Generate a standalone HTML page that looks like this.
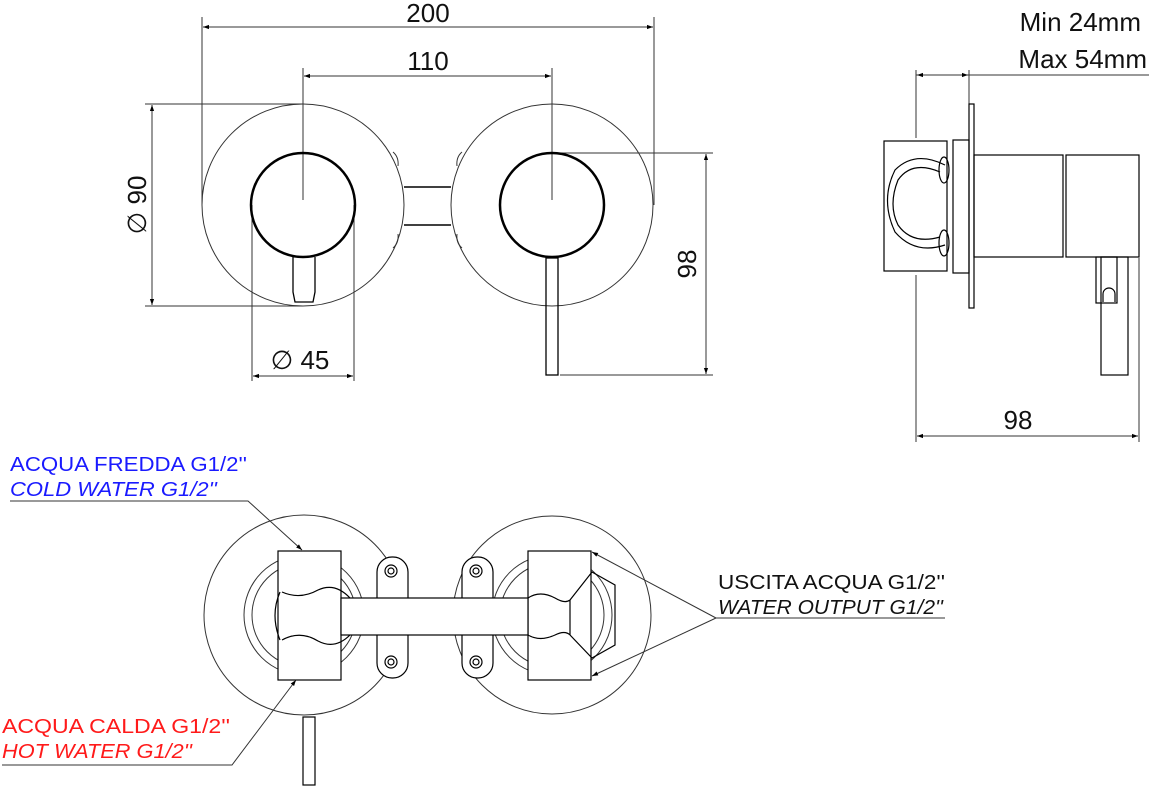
<!DOCTYPE html>
<html><head><meta charset="utf-8"><style>
html,body{margin:0;padding:0;background:#fff}
svg{display:block}
text{font-family:"Liberation Sans",sans-serif}
</style></head><body>
<svg width="1149" height="786" viewBox="0 0 1149 786" xmlns="http://www.w3.org/2000/svg">
<defs>
<marker id="a" viewBox="0 0 10 10" refX="10" refY="5" markerWidth="14" markerHeight="6" orient="auto-start-reverse" markerUnits="userSpaceOnUse"><path d="M0,1.5 L10,5 L0,8.5z" fill="#000"/></marker>
</defs>
<g fill="none" stroke="#333" stroke-width="1">
<line x1="202" y1="17" x2="202" y2="205"/><line x1="654" y1="17" x2="654" y2="205"/>
<line x1="203" y1="27" x2="653" y2="27" marker-start="url(#a)" marker-end="url(#a)"/>
<line x1="303" y1="68" x2="303" y2="200"/><line x1="552" y1="68" x2="552" y2="200"/>
<line x1="304" y1="76" x2="551" y2="76" marker-start="url(#a)" marker-end="url(#a)"/>
<line x1="145" y1="104" x2="303" y2="104"/><line x1="145" y1="306" x2="303" y2="306"/>
<line x1="152" y1="105" x2="152" y2="305" marker-start="url(#a)" marker-end="url(#a)"/>
<line x1="252" y1="205" x2="252" y2="381"/><line x1="354" y1="205" x2="354" y2="381"/>
<line x1="253" y1="376" x2="353" y2="376" marker-start="url(#a)" marker-end="url(#a)"/>
<line x1="552" y1="153" x2="713" y2="153"/><line x1="560" y1="375" x2="713" y2="375"/>
<line x1="706" y1="154" x2="706" y2="374" marker-start="url(#a)" marker-end="url(#a)"/>
<circle cx="303" cy="205" r="101"/><circle cx="552" cy="205" r="101"/>
<line x1="404" y1="187" x2="451" y2="187" stroke="#000" stroke-width="1.5"/>
<line x1="404" y1="225" x2="451" y2="225" stroke="#000" stroke-width="1.5"/>
<path d="M393,152 q6,5 5,14 M393,248 q6,-5 5,-14 M462,152 q-6,5 -5,14 M462,248 q-6,-5 -5,-14"/>
<circle cx="303" cy="205" r="52" stroke="#000" stroke-width="2.5"/>
<circle cx="552" cy="205" r="52" stroke="#000" stroke-width="2.5"/>
<path d="M293,257 V292 L295,302 H313 L315,292 V257" stroke="#000" stroke-width="1.3"/>
<rect x="546" y="258" width="12" height="117" stroke="#000" stroke-width="1.3"/>
<line x1="916" y1="75" x2="1149" y2="75"/>
<line x1="917" y1="75" x2="968" y2="75" marker-start="url(#a)" marker-end="url(#a)"/>
<line x1="916" y1="70" x2="916" y2="138"/><line x1="916" y1="275" x2="916" y2="442"/>
<line x1="969" y1="70" x2="969" y2="104"/>
<line x1="1139" y1="258" x2="1139" y2="442"/>
<line x1="917" y1="436" x2="1138" y2="436" marker-start="url(#a)" marker-end="url(#a)"/>
<g stroke="#000" stroke-width="1.2">
<rect x="884" y="141" width="63" height="130"/>
<rect x="953" y="140" width="16" height="133"/>
<rect x="969" y="104" width="5" height="204"/>
<rect x="974" y="155" width="89" height="102"/>
<rect x="1066" y="155" width="73" height="102"/>
<rect x="1096" y="257" width="21" height="46"/>
<rect x="1101" y="257" width="27" height="118"/>
<path d="M1103,302 v-8 a6,6 0 0 1 12,0 v8"/>
<path d="M945,165 Q915,150 895,170 Q880,200 895,232 Q915,255 945,245"/>
<path d="M940,172 Q912,160 898,180 Q888,205 898,225 Q912,245 940,237"/>
<ellipse cx="944" cy="170" rx="5" ry="13"/><ellipse cx="944" cy="243" rx="5" ry="13"/>
</g>
<circle cx="304" cy="615" r="100"/><circle cx="552" cy="615" r="99"/>
<circle cx="304" cy="615" r="60"/><circle cx="304" cy="615" r="52"/>
<circle cx="552" cy="615" r="60"/><circle cx="552" cy="615" r="52"/>
<g stroke="#000" stroke-width="1.2">
<rect x="377" y="557" width="31" height="121" rx="15" fill="#fff"/>
<rect x="462" y="557" width="31" height="121" rx="15" fill="#fff"/>
<circle cx="391" cy="571" r="6"/><circle cx="391" cy="571" r="3"/>
<circle cx="391" cy="662" r="6"/><circle cx="391" cy="662" r="3"/>
<circle cx="476" cy="571" r="6"/><circle cx="476" cy="571" r="3"/>
<circle cx="476" cy="662" r="6"/><circle cx="476" cy="662" r="3"/>
<rect x="278" y="551" width="63" height="129" fill="#fff"/>
<rect x="528" y="551" width="63" height="129" fill="#fff"/>
<rect x="341" y="598" width="187" height="37" fill="#fff"/>
<path d="M282,592 Q300,600 318,590 Q335,582 350,598 M282,640 Q300,630 318,641 Q335,650 350,635 M280,592 Q270,615 280,640"/>
<path d="M528,598 Q540,590 555,598 Q565,604 570,600 M528,635 Q540,642 555,635 Q565,630 570,635 M570,600 V635"/>
<path d="M570,600 L592,572 L615,585 V645 L592,658 L570,635 M592,572 L615,585"/>
<rect x="303" y="717" width="12" height="68"/>
</g>
<polyline points="10,501 248,501 302,550" marker-end="url(#a)"/>
<polyline points="2,765 232,765 296,680" marker-end="url(#a)"/>
<polyline points="716,618 945,618"/>
<line x1="716" y1="618" x2="592" y2="552" marker-end="url(#a)"/>
<line x1="716" y1="618" x2="592" y2="676" marker-end="url(#a)"/>
</g>
<g font-size="26" fill="#111">
<text x="428" y="22" text-anchor="middle">200</text>
<text x="428" y="70" text-anchor="middle">110</text>
<text x="300" y="369" text-anchor="middle">∅ 45</text>
<text transform="translate(146,205) rotate(-90)" text-anchor="middle">∅ 90</text>
<text transform="translate(696,264) rotate(-90)" text-anchor="middle">98</text>
<text x="1018" y="429" text-anchor="middle">98</text>
<text x="1141" y="31" text-anchor="end">Min 24mm</text>
<text x="1147" y="68" text-anchor="end">Max 54mm</text>
</g>
<g font-size="20">
<text x="10" y="471" fill="#1a1aff" textLength="237" lengthAdjust="spacingAndGlyphs">ACQUA FREDDA G1/2''</text>
<text x="10" y="496" fill="#1a1aff" font-style="italic" textLength="207" lengthAdjust="spacingAndGlyphs">COLD WATER G1/2''</text>
<text x="718" y="589" fill="#111" textLength="227" lengthAdjust="spacingAndGlyphs">USCITA ACQUA G1/2''</text>
<text x="718" y="614" fill="#111" font-style="italic" textLength="225" lengthAdjust="spacingAndGlyphs">WATER OUTPUT G1/2''</text>
<text x="2" y="733" fill="#ff1a1a" textLength="228" lengthAdjust="spacingAndGlyphs">ACQUA CALDA G1/2''</text>
<text x="2" y="758" fill="#ff1a1a" font-style="italic" textLength="190" lengthAdjust="spacingAndGlyphs">HOT WATER G1/2''</text>
</g>
</svg>
</body></html>
